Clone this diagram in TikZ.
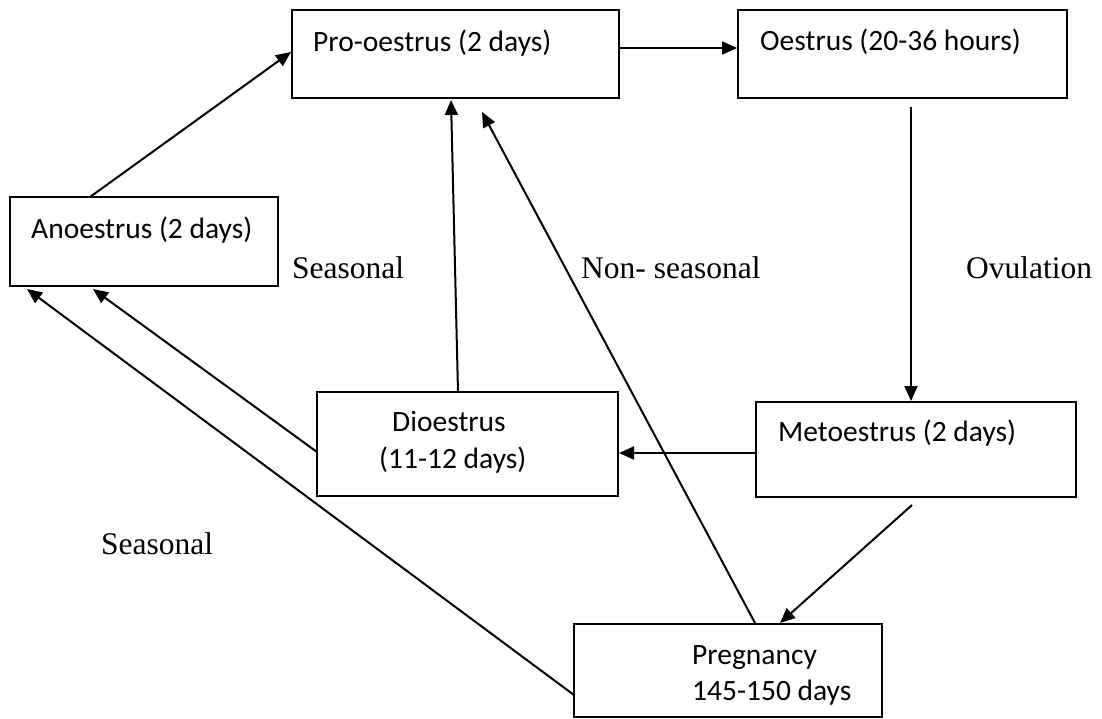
\documentclass[tikz,border=0pt]{standalone}
\usepackage{fontspec}
\setmainfont{Liberation Serif}
\newfontfamily\boxfont{Carlito}
\usetikzlibrary{arrows.meta,calc}
\begin{document}
\begin{tikzpicture}[x=1pt,y=-1pt,
  stage/.style={draw=black, line width=2pt, anchor=north west, inner sep=0pt, outer sep=0pt},
  btext/.style={anchor=base west, inner sep=0pt, font=\boxfont\fontsize{29.5}{35}\selectfont},
  lbl/.style={anchor=base west, inner sep=0pt, font=\fontsize{31.5}{38}\selectfont},
  arr/.style={line width=2pt, -{Triangle[length=15pt,width=13pt]}}]
\useasboundingbox (0,0) rectangle (1102,719);
% boxes
\node[stage, minimum width=268pt, minimum height=89pt] (ano) at (10,197) {};
\node[stage, minimum width=327pt, minimum height=88pt] (pro) at (292,10) {};
\node[stage, minimum width=329pt, minimum height=88pt] (oes) at (738,10) {};
\node[stage, minimum width=301pt, minimum height=104pt] (dio) at (317,392) {};
\node[stage, minimum width=320pt, minimum height=95pt] (met) at (756,402) {};
\node[stage, minimum width=308pt, minimum height=93pt] (preg) at (574,624) {};
% box texts
\node[btext] (tpro) at (313,52) {Pro-oestrus (2 days)};
\node[btext] (toes) at (760,51) {Oestrus (20-36 hours)};
\node[btext] (tano) at (31,239) {Anoestrus (2 days)};
\node[btext] (tdio1) at (392,431) {Dioestrus};
\node[btext] (tdio2) at (379,468) {(11-12 days)};
\node[btext] (tmet) at (778,441) {Metoestrus (2 days)};
\node[btext] (tpreg1) at (692,664) {Pregnancy};
\node[btext] (tpreg2) at (692,700) {145-150 days};
% labels
\node[lbl] (l1) at (292,278) {Seasonal};
\node[lbl] (l2) at (581,278) {Non- seasonal};
\node[lbl] (l3) at (966,278) {Ovulation};
\node[lbl] (l4) at (101,554) {Seasonal};
% connectors
\draw[arr] ($(ano.north west)+(80,0)$) -- ($(pro.north west)+(-1,42)$);
\draw[arr] ($(pro.north east)+(0,38)$) -- ($(oes.north west)+(-1,38)$);
\draw[arr] ($(oes.south west)+(173,9)$) -- ($(met.north west)+(155,-1)$);
\draw[arr] ($(met.north west)+(0,51)$) -- ($(dio.north east)+(1,61)$);
\draw[arr] ($(dio.north west)+(141,0)$) -- ($(pro.south west)+(159,2)$);
\draw[arr] ($(dio.north west)+(0,60)$) -- ($(ano.south west)+(83,3)$);
\draw[arr] ($(preg.north west)+(0,71)$) -- ($(ano.south west)+(17,3)$);
\draw[arr] ($(preg.north west)+(181,-1)$) -- ($(pro.south west)+(190,14)$);
\draw[arr] ($(met.south west)+(156,8)$) -- ($(preg.north west)+(206,-1)$);
\end{tikzpicture}
\end{document}
